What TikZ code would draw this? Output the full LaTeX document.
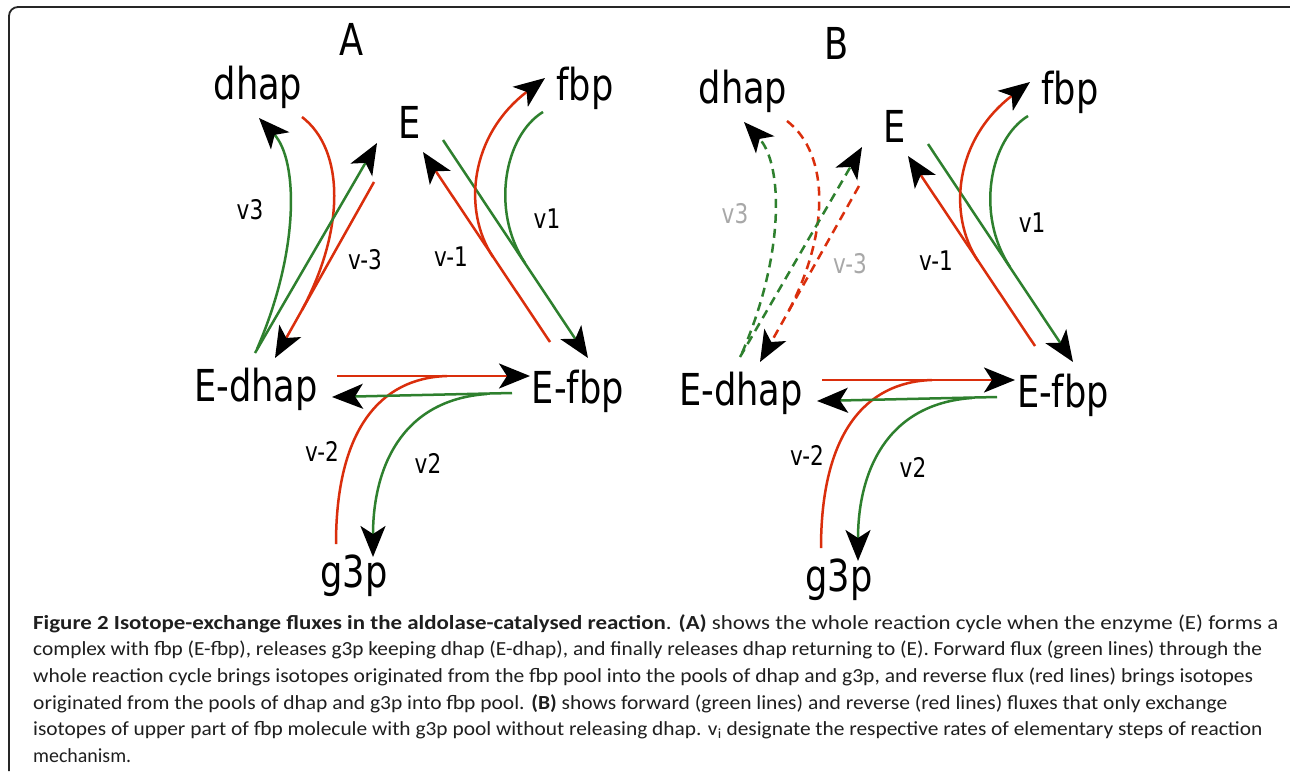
\documentclass[tikz,border=0pt]{standalone}
\usepackage{graphicx}
\usepackage{fontspec}
\setmainfont{DejaVu Sans}
\newfontfamily\labfont[FakeStretch=0.8]{DejaVu Sans}
\newfontfamily\capfont{Carlito}
\usetikzlibrary{arrows.meta}
\definecolor{rd}{RGB}{218,46,12}
\definecolor{gn}{RGB}{46,128,46}
\definecolor{lightlab}{RGB}{168,168,168}
\tikzset{
  big/.style={font=\labfont\fontsize{44}{44}\selectfont, inner sep=0pt, anchor=base},
  small/.style={font=\labfont\fontsize{27}{27}\selectfont, inner sep=0pt},
  flux/.style={line width=2.5pt},
  rflux/.style={flux, draw=rd},
  gflux/.style={flux, draw=gn},
  tipped/.style={-{Stealth[length=31pt,width=25pt,inset=8pt,color=black]}},
  dashflux/.style={dash pattern=on 9pt off 6pt},
  solidflux/.style={},
  capline/.style={anchor=base west, inner sep=0pt, font=\capfont\fontsize{20}{20}\selectfont, text=black!88},
  frame/.style={line width=1.8pt, draw=black!85, rounded corners=9pt}
}
\newcommand\fluxpanel[4]{%
  % #1 suffix, #2 letter, #3 style of left group, #4 colour of left labels
  \node[big] (let#1) at (352,55) {#2};
  \node[big] (dhap#1) at (258,99) {dhap};
  \node[big] (E#1) at (410,138) {E};
  \node[big] (fbp#1) at (585,100) {fbp};
  \node[big] (Edhap#1) at (256,401) {E-dhap};
  \node[big] (Efbp#1) at (578,403) {E-fbp};
  \node[big] (g3p#1) at (354,587) {g3p};
  % coordinates, left group
  \coordinate (gs#1) at (255,353); \coordinate (ge#1) at (377,143);
  \coordinate (rs#1) at (374,182); \coordinate (re#1) at (275,358);
  \coordinate (gc#1) at (257,349); \coordinate (gct#1) at (259,118);
  \coordinate (rc#1) at (302,117); \coordinate (rm#1) at (302,310);
  % right group
  \coordinate (rs2#1) at (550,342); \coordinate (re2#1) at (423,152);
  \coordinate (gs2#1) at (443,140); \coordinate (ge2#1) at (588,358);
  \coordinate (rc2#1) at (493,257); \coordinate (rt2#1) at (545,78);
  \coordinate (gc2#1) at (543,112); \coordinate (gm2#1) at (525,263);
  % bottom group
  \coordinate (rh0#1) at (337,376); \coordinate (rh1#1) at (530,376);
  \coordinate (gh0#1) at (512,393); \coordinate (gh1#1) at (332,397);
  \coordinate (rv0#1) at (336,544); \coordinate (rvm#1) at (447,376);
  \coordinate (gvm#1) at (487,394); \coordinate (gv1#1) at (373,557);
  % left group (v3 / v-3)
  \draw[rflux,#3] (rc#1) .. controls (345,150) and (345,230) .. (rm#1);
  \draw[gflux,#3,tipped] (gs#1) -- (ge#1);
  \draw[rflux,#3,tipped] (rs#1) -- (re#1);
  \draw[gflux,#3,tipped] (gc#1) .. controls (300,250) and (298,160) .. (gct#1);
  % right group (v1 / v-1)
  \draw[gflux] (gc2#1) .. controls (505,135) and (490,210) .. (gm2#1);
  \draw[rflux,tipped] (rs2#1) -- (re2#1);
  \draw[gflux,tipped] (gs2#1) -- (ge2#1);
  \draw[rflux,tipped] (rc2#1) .. controls (462,210) and (470,135) .. (rt2#1);
  % bottom group (v2 / v-2)
  \draw[rflux] (rv0#1) .. controls (336,430) and (380,378) .. (rvm#1);
  \draw[gflux,tipped] (gvm#1) .. controls (400,400) and (373,470) .. (gv1#1);
  \draw[rflux,tipped] (rh0#1) -- (rh1#1);
  \draw[gflux,tipped] (gh0#1) -- (gh1#1);
  % rate labels
  \node[small,text=#4] (v3#1) at (250,210) {v3};
  \node[small,text=#4] (vm3#1) at (365,260) {v-3};
  \node[small] (vm1#1) at (451,257) {v-1};
  \node[small] (v1#1) at (547,219) {v1};
  \node[small] (vm2#1) at (322,451) {v-2};
  \node[small] (v2#1) at (428,463) {v2};
}
\begin{document}
\begin{tikzpicture}[x=1pt,y=-1pt]
  \useasboundingbox (0,0) rectangle (1290,771);
  \fill[white] (0,0) rectangle (1290,771);
  \draw[frame] (9,771) -- (9,7) -- (1290,7);
  \begin{scope}
    \fluxpanel{a}{A}{solidflux}{black}
  \end{scope}
  \begin{scope}[shift={(485,4)}]
    \fluxpanel{b}{B}{dashflux}{lightlab}
  \end{scope}
  % caption
  \node[capline] (cap1) at (33,629) {\resizebox{1245pt}{\height}{\textbf{Figure 2 Isotope-exchange fluxes in the aldolase-catalysed reaction}. \textbf{(A)} shows the whole reaction cycle when the enzyme (E) forms a}};
  \node[capline] (cap2) at (33,655) {\resizebox{1229pt}{\height}{complex with fbp (E-fbp), releases g3p keeping dhap (E-dhap), and finally releases dhap returning to (E). Forward flux (green lines) through the}};
  \node[capline] (cap3) at (33,682) {\resizebox{1220pt}{\height}{whole reaction cycle brings isotopes originated from the fbp pool into the pools of dhap and g3p, and reverse flux (red lines) brings isotopes}};
  \node[capline] (cap4) at (33,709) {\resizebox{1194pt}{\height}{originated from the pools of dhap and g3p into fbp pool. \textbf{(B)} shows forward (green lines) and reverse (red lines) fluxes that only exchange}};
  \node[capline] (cap5) at (33,735) {\resizebox{1229pt}{\height}{isotopes of upper part of fbp molecule with g3p pool without releasing dhap. v\textsubscript{i} designate the respective rates of elementary steps of reaction}};
  \node[capline] (cap6) at (33,762) {\resizebox{98pt}{\height}{mechanism.}};
\end{tikzpicture}
\end{document}
